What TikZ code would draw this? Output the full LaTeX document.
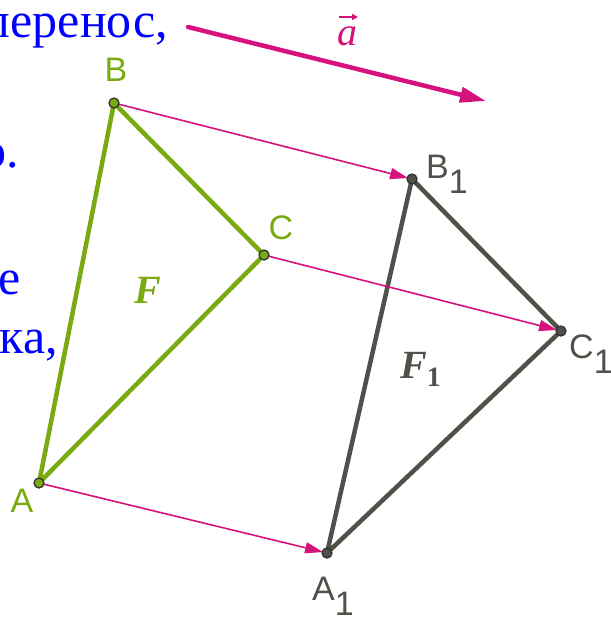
\documentclass[tikz,border=0pt]{standalone}
\usepackage{fontspec}
\setmainfont{Liberation Serif}
\newfontfamily\labfont{Liberation Sans}
\usetikzlibrary{arrows.meta}
\definecolor{txtblue}{RGB}{0,0,255}
\definecolor{vecmag}{RGB}{214,18,124}
\definecolor{figgreen}{RGB}{122,170,18}
\definecolor{figgray}{RGB}{78,82,72}
\tikzset{
  bodytext/.style={inner sep=0pt, text=txtblue, font=\fontsize{50}{60}\selectfont},
  ptlab/.style={inner sep=0pt, font=\labfont\fontsize{34}{40}\selectfont},
  greenside/.style={draw=figgreen, line width=4.5pt, line cap=round, line join=round},
  grayside/.style={draw=figgray, line width=4.5pt, line cap=round, line join=round},
  shiftarrow/.style={draw=vecmag, line width=1.6pt, -{Triangle[length=18pt,width=11pt]}, shorten >=4pt},
  greendot/.style={circle, minimum size=10pt, inner sep=0pt, fill=figgreen, draw=black!80, line width=1.3pt},
  graydot/.style={circle, minimum size=10pt, inner sep=0pt, fill=figgray, draw=black!80, line width=1.3pt}
}
\newcommand\subone{\raisebox{-0.45em}{1}}
\begin{document}
\begin{tikzpicture}[x=1pt,y=-1pt]
\useasboundingbox (0,0) rectangle (611,622);
\begin{scope}
\clip (0,0) rectangle (611,622);
% fragments of text
\node[bodytext, anchor=base east] (t1) at (168,37) {перенос,};
\node[bodytext, anchor=base east] (t2) at (19,167) {о.};
\node[bodytext, anchor=base east] (t3) at (21,294) {е};
\node[bodytext, anchor=base east] (t4) at (58,353) {ка,};

% points
\coordinate (A) at (39,483);
\coordinate (B) at (114,103);
\coordinate (C) at (264,255);
\coordinate (A1) at (327,553);
\coordinate (B1) at (412,179);
\coordinate (C1) at (561,331);

% vector a
\coordinate (va) at (188,27);
\coordinate (vb) at (486,101);
\draw[draw=vecmag, line width=4.5pt, line cap=round, -{Triangle[length=26pt,width=15pt]}] (va) -- (vb);
\node[text=vecmag, inner sep=0pt, anchor=base, font=\fontsize{40}{44}\selectfont\itshape] (alab) at (347,45) {a};
\coordinate (arS) at (339,17);
\coordinate (arE) at (358,17);
\draw[draw=vecmag, line width=1.6pt, -{Triangle[length=6pt,width=6pt]}] (arS) -- (arE);

% triangles
\draw[greenside] (A) -- (B) -- (C) -- cycle;
\draw[grayside] (A1) -- (B1) -- (C1) -- cycle;

% translation arrows
\draw[shiftarrow] (A) -- (A1);
\draw[shiftarrow] (B) -- (B1);
\draw[shiftarrow] (C) -- (C1);

% dots
\node[greendot] (dA) at (A) {};
\node[greendot] (dB) at (B) {};
\node[greendot] (dC) at (C) {};
\node[graydot] (dA1) at (A1) {};
\node[graydot] (dB1) at (B1) {};
\node[graydot] (dC1) at (C1) {};

% labels
\node[ptlab, text=figgreen] (lB) at (116,70) {B};
\node[ptlab, text=figgreen] (lC) at (281,228) {C};
\node[ptlab, text=figgreen] (lA) at (22,501) {A};
\node[ptlab, text=figgray, anchor=base west] (lB1) at (426,178) {B\subone};
\node[ptlab, text=figgray, anchor=base west] (lC1) at (569,358) {C\subone};
\node[ptlab, text=figgray, anchor=base west] (lA1) at (312,600) {A\subone};

\node[text=figgreen, inner sep=0pt, font=\fontsize{40}{44}\selectfont\bfseries\itshape] (lF) at (148,290) {F};
\node[text=figgray, inner sep=0pt, anchor=base west, font=\fontsize{40}{44}\selectfont\bfseries] (lF1) at (400,378) {\textit{F}\raisebox{-0.2em}{\fontsize{28}{30}\selectfont 1}};
\end{scope}
\end{tikzpicture}
\end{document}
